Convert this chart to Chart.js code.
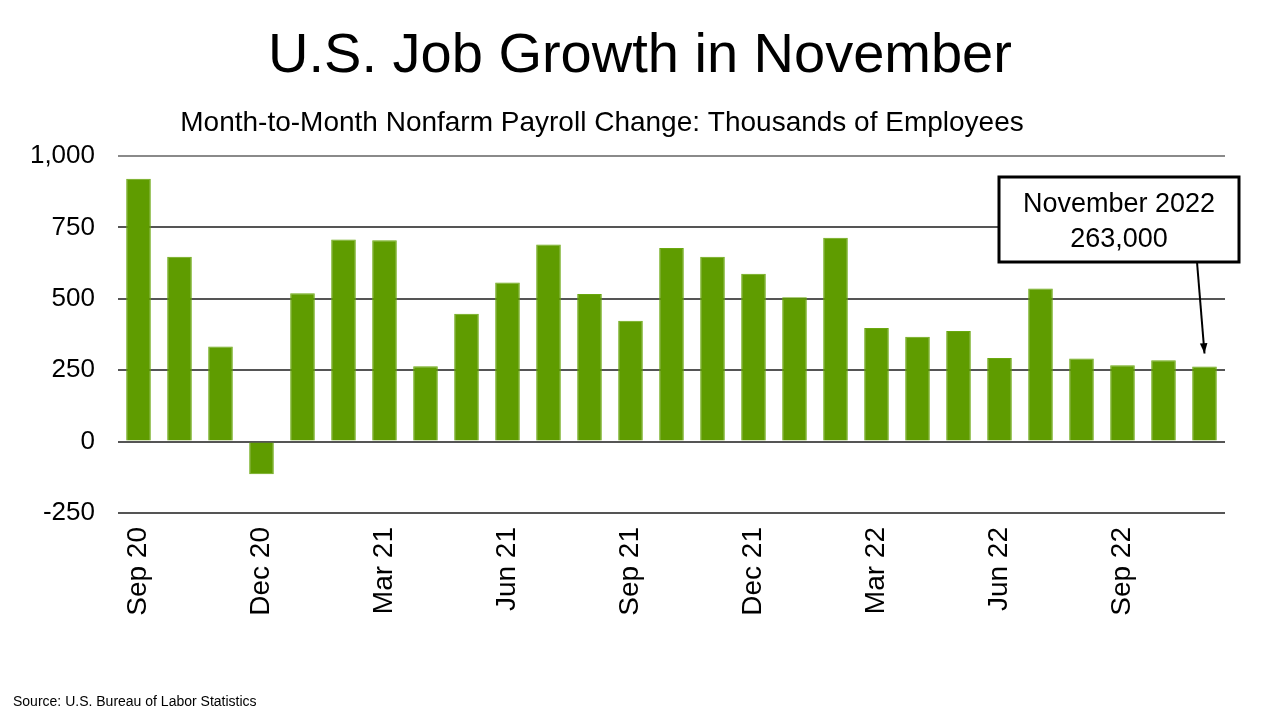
<!DOCTYPE html>
<html>
<head>
<meta charset="utf-8">
<title>U.S. Job Growth in November</title>
<script src="https://cdn.jsdelivr.net/npm/chart.js@4.4.0/dist/chart.umd.min.js"></script>
<style>
    html, body { margin: 0; padding: 0; background: #fff; }
    #wrap { position: relative; width: 1280px; height: 720px; }
</style>
</head>
<body>
<div id="wrap"><canvas id="jobsChart" width="1280" height="720"></canvas></div>
<script>
// Data
const months = [
    'Sep 20', 'Oct 20', 'Nov 20', 'Dec 20', 'Jan 21', 'Feb 21', 'Mar 21', 'Apr 21', 'May 21',
    'Jun 21', 'Jul 21', 'Aug 21', 'Sep 21', 'Oct 21', 'Nov 21', 'Dec 21', 'Jan 22', 'Feb 22',
    'Mar 22', 'Apr 22', 'May 22', 'Jun 22', 'Jul 22', 'Aug 22', 'Sep 22', 'Oct 22', 'Nov 22'
];
const shownMonths = ['Sep 20', 'Dec 20', 'Mar 21', 'Jun 21', 'Sep 21', 'Dec 21', 'Mar 22', 'Jun 22', 'Sep 22'];
const payrollChange = [
    920, 647, 333, -114, 519, 708, 705, 264, 448,
    557, 690, 517, 423, 678, 647, 588, 505, 714,
    398, 367, 387, 293, 536, 291, 267, 285, 263
];
const yTicks = [-250, 0, 250, 500, 750, 1000];
const calloutLines = ['November 2022', '263,000'];

const titleText = 'U.S. Job Growth in November';
const subtitleText = 'Month-to-Month Nonfarm Payroll Change: Thousands of Employees';
const sourceText = 'Source: U.S. Bureau of Labor Statistics';

const FONT = '"Liberation Sans", Arial, sans-serif';

// Titles, source note, and the callout box with its arrow
const textPlugin = {
    id: 'slideText',
    afterDatasetsDraw(chart) {
        const ctx = chart.ctx;
        ctx.save();
        ctx.fillStyle = '#000';
        ctx.textBaseline = 'alphabetic';

        ctx.textAlign = 'center';
        ctx.font = '56px ' + FONT;
        ctx.fillText(titleText, 640, 72);
        ctx.font = '28px ' + FONT;
        ctx.fillText(subtitleText, 602, 131);

        ctx.textAlign = 'left';
        ctx.font = '14px ' + FONT;
        ctx.fillText(sourceText, 13, 706);

        // callout
        const bar = chart.getDatasetMeta(0).data[payrollChange.length - 1];
        const box = { x: 999, y: 177, w: 240, h: 85 };
        ctx.fillStyle = '#fff';
        ctx.fillRect(box.x, box.y, box.w, box.h);
        ctx.lineWidth = 3;
        ctx.strokeStyle = '#000';
        ctx.strokeRect(box.x, box.y, box.w, box.h);

        ctx.fillStyle = '#000';
        ctx.font = '27px ' + FONT;
        ctx.textAlign = 'center';
        ctx.fillText(calloutLines[0], box.x + box.w / 2, 212);
        ctx.fillText(calloutLines[1], box.x + box.w / 2, 247);

        const x0 = 1197, y0 = box.y + box.h;
        const x1 = bar.x, y1 = bar.y - 13;
        ctx.lineWidth = 2;
        ctx.beginPath();
        ctx.moveTo(x0, y0);
        ctx.lineTo(x1, y1);
        ctx.stroke();
        const ang = Math.atan2(y1 - y0, x1 - x0);
        ctx.beginPath();
        ctx.moveTo(x1, y1);
        ctx.lineTo(x1 - 11 * Math.cos(ang - 0.35), y1 - 11 * Math.sin(ang - 0.35));
        ctx.lineTo(x1 - 11 * Math.cos(ang + 0.35), y1 - 11 * Math.sin(ang + 0.35));
        ctx.closePath();
        ctx.fill();
        ctx.restore();
    }
};

const ctx = document.getElementById('jobsChart').getContext('2d');
const jobsChart = new Chart(ctx, {
    type: 'bar',
    data: {
        labels: months,
        datasets: [{
            data: payrollChange,
            backgroundColor: '#5f9c00',
            borderColor: '#6aa80f',
            borderWidth: 1,
            barPercentage: 0.6,
            categoryPercentage: 1
        }]
    },
    options: {
        responsive: false,
        animation: false,
        devicePixelRatio: 1,
        layout: { padding: { left: 0, right: 55, top: 156, bottom: 100 } },
        plugins: {
            legend: { display: false },
            tooltip: { enabled: false }
        },
        scales: {
            x: {
                grid: { display: false },
                border: { display: false },
                afterFit(scale) { scale.height = 107; },
                ticks: {
                    autoSkip: false,
                    minRotation: 90,
                    maxRotation: 90,
                    padding: 6,
                    color: '#000',
                    font: { family: FONT, size: 28 },
                    callback(value) {
                        const lbl = this.getLabelForValue(value);
                        return shownMonths.includes(lbl) ? lbl : '';
                    }
                }
            },
            y: {
                min: yTicks[0],
                max: yTicks[yTicks.length - 1],
                afterBuildTicks(axis) {
                    axis.ticks = yTicks.map(v => ({ value: v }));
                },
                afterFit(scale) { scale.width = 118; },
                border: { display: false },
                grid: {
                    drawTicks: false,
                    lineWidth: 2,
                    color: c => c.tick && c.tick.value === 1000 ? '#8a8a8a' : '#555'
                },
                ticks: {
                    padding: 23,
                    color: '#000',
                    font: { family: FONT, size: 26 },
                    callback: v => v.toLocaleString('en-US')
                }
            }
        }
    },
    plugins: [textPlugin]
});
</script>
</body>
</html>
